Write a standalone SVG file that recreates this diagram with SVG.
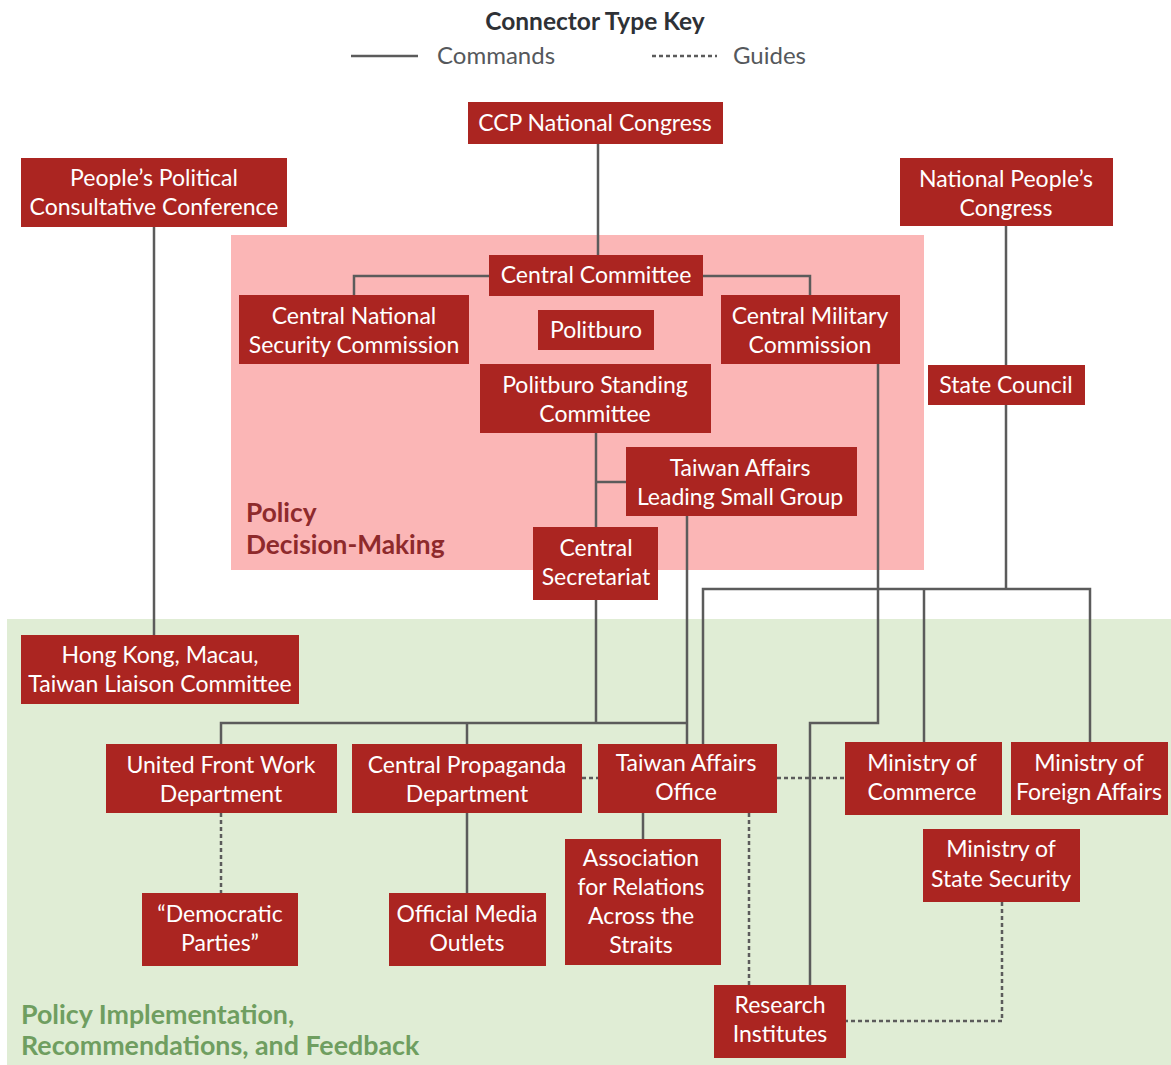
<svg xmlns="http://www.w3.org/2000/svg" width="1171" height="1065" viewBox="0 0 1171 1065">
<style>
.n rect{fill:#ab2521}
.n text{fill:#fff;font-family:Lato,"Open Sans",sans-serif;font-size:23px;text-anchor:middle}
.c{fill:none;stroke:#5b5b5b;stroke-width:2.5}
.d{fill:none;stroke:#5b5b5b;stroke-width:2.5;stroke-dasharray:4 3}
.k{font-family:Lato,"Open Sans",sans-serif;font-size:24px;fill:#55585c}
</style>
<rect width="1171" height="1065" fill="#fff"/>
<rect x="231" y="235" width="693" height="335" fill="#fbb6b6"/>
<rect x="7" y="619" width="1164" height="446" fill="#e0edd5"/>
<text x="595" y="30" text-anchor="middle" font-family="Lato,sans-serif" font-weight="bold" font-size="24.5" fill="#2e3136">Connector Type Key</text>
<line x1="351" y1="56" x2="418" y2="56" class="c"/>
<text x="437" y="64" class="k">Commands</text>
<line x1="652" y1="56" x2="717" y2="56" class="d"/>
<text x="733" y="64" class="k">Guides</text>
<text font-family="Lato,sans-serif" font-weight="bold" font-size="26.3" fill="#8e2a2c"><tspan x="246" y="522">Policy</tspan><tspan x="246" y="554">Decision-Making</tspan></text>
<text font-family="Lato,sans-serif" font-weight="bold" font-size="26.8" fill="#6f9e60"><tspan x="21" y="1024">Policy Implementation,</tspan><tspan x="21" y="1055">Recommendations, and Feedback</tspan></text>
<g id="connectors">
<path class="c" d="M598 144V255"/>
<path class="c" d="M489 276H354V295"/>
<path class="c" d="M703 276H810V295"/>
<path class="c" d="M154 227V635"/>
<path class="c" d="M1006 226V365"/>
<path class="c" d="M1006 405V589"/>
<path class="c" d="M703 744V589H1090V742"/>
<path class="c" d="M924 589V742"/>
<path class="c" d="M596 433V527"/>
<path class="c" d="M596 482H626"/>
<path class="c" d="M687 516V744"/>
<path class="c" d="M596 600V723"/>
<path class="c" d="M221 744V723H687"/>
<path class="c" d="M467 723V744"/>
<path class="c" d="M878 364V723H810V985"/>
<path class="c" d="M467 813V893"/>
<path class="c" d="M643 813V839"/>
<path class="d" d="M582 778H598"/>
<path class="d" d="M777 778H845"/>
<path class="d" d="M221 813V893"/>
<path class="d" d="M749 813V985"/>
<path class="d" d="M1002 902V1021H846"/>
</g>
<g id="ccp" class="n"><rect x="468" y="102" width="255" height="42"/><text x="595" y="131">CCP National Congress</text></g>
<g id="ppcc" class="n"><rect x="21" y="158" width="266" height="69"/><text x="154" y="186">People’s Political</text><text x="154" y="215">Consultative Conference</text></g>
<g id="npc" class="n"><rect x="900" y="158" width="213" height="68"/><text x="1006" y="187">National People’s</text><text x="1006" y="216">Congress</text></g>
<g id="cc" class="n"><rect x="489" y="255" width="214" height="41"/><text x="596" y="283">Central Committee</text></g>
<g id="cnsc" class="n"><rect x="239" y="295" width="230" height="69"/><text x="354" y="324">Central National</text><text x="354" y="353">Security Commission</text></g>
<g id="politburo" class="n"><rect x="538" y="310" width="116" height="40"/><text x="596" y="338">Politburo</text></g>
<g id="cmc" class="n"><rect x="721" y="295" width="179" height="69"/><text x="810" y="324">Central Military</text><text x="810" y="353">Commission</text></g>
<g id="psc" class="n"><rect x="480" y="364" width="231" height="69"/><text x="595" y="393">Politburo Standing</text><text x="595" y="422">Committee</text></g>
<g id="talsg" class="n"><rect x="626" y="447" width="231" height="69"/><text x="740" y="476">Taiwan Affairs</text><text x="740" y="505">Leading Small Group</text></g>
<g id="secretariat" class="n"><rect x="533" y="527" width="125" height="73"/><text x="596" y="556">Central</text><text x="596" y="585">Secretariat</text></g>
<g id="statecouncil" class="n"><rect x="928" y="365" width="157" height="40"/><text x="1006" y="393">State Council</text></g>
<g id="hkmt" class="n"><rect x="21" y="635" width="278" height="69"/><text x="160" y="663">Hong Kong, Macau,</text><text x="160" y="692">Taiwan Liaison Committee</text></g>
<g id="ufwd" class="n"><rect x="106" y="744" width="231" height="69"/><text x="221" y="773">United Front Work</text><text x="221" y="802">Department</text></g>
<g id="cpd" class="n"><rect x="352" y="744" width="230" height="69"/><text x="467" y="773">Central Propaganda</text><text x="467" y="802">Department</text></g>
<g id="tao" class="n"><rect x="598" y="744" width="179" height="69"/><text x="686" y="771">Taiwan Affairs</text><text x="686" y="800">Office</text></g>
<g id="mofcom" class="n"><rect x="845" y="742" width="157" height="73"/><text x="922" y="771">Ministry of</text><text x="922" y="800">Commerce</text></g>
<g id="mfa" class="n"><rect x="1011" y="742" width="157" height="73"/><text x="1089" y="771">Ministry of</text><text x="1089" y="800">Foreign Affairs</text></g>
<g id="mss" class="n"><rect x="923" y="829" width="157" height="73"/><text x="1001" y="857">Ministry of</text><text x="1001" y="887">State Security</text></g>
<g id="democratic" class="n"><rect x="142" y="893" width="156" height="73"/><text x="220" y="922">“Democratic</text><text x="220" y="951">Parties”</text></g>
<g id="media" class="n"><rect x="389" y="893" width="157" height="73"/><text x="467" y="922">Official Media</text><text x="467" y="951">Outlets</text></g>
<g id="arats" class="n"><rect x="565" y="839" width="156" height="126"/><text x="641" y="866">Association</text><text x="641" y="895">for Relations</text><text x="641" y="924">Across the</text><text x="641" y="953">Straits</text></g>
<g id="research" class="n"><rect x="714" y="985" width="132" height="73"/><text x="780" y="1013">Research</text><text x="780" y="1042">Institutes</text></g>
</svg>
